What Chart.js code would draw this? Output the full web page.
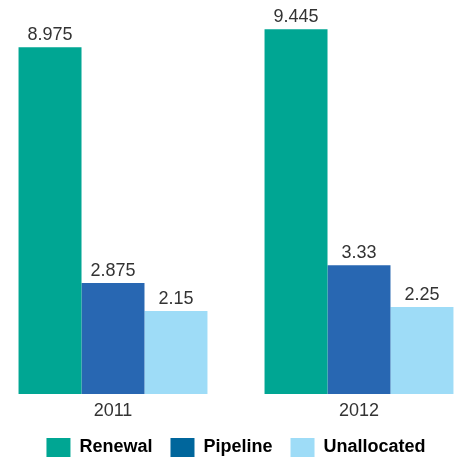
<!DOCTYPE html>
<html>
<head>
<meta charset="utf-8">
<script src="https://cdn.jsdelivr.net/npm/chart.js@4"></script>
<style>
  html, body { margin: 0; padding: 0; background: #fff; overflow: hidden; }
  #wrap { position: absolute; left: -10px; top: 0; width: 492px; height: 467px; }
</style>
</head>
<body>
<div id="wrap"><canvas id="chart"></canvas></div>
<script>
// Chart data
const years = ['2011', '2012'];
const renewal = [8.975, 9.445];
const pipeline = [2.875, 3.33];
const unallocated = [2.15, 2.25];

// Draws the value above each bar
const valueLabels = {
    id: 'valueLabels',
    afterDatasetsDraw(chart) {
        const ctx = chart.ctx;
        ctx.save();
        ctx.font = '18px "Liberation Sans", Arial, sans-serif';
        ctx.fillStyle = '#333333';
        ctx.textAlign = 'center';
        ctx.textBaseline = 'bottom';
        chart.data.datasets.forEach((ds, i) => {
            chart.getDatasetMeta(i).data.forEach((bar, j) => {
                ctx.fillText(String(ds.data[j]), bar.x, bar.y - 3);
            });
        });
        ctx.restore();
    }
};

new Chart(document.getElementById('chart').getContext('2d'), {
    type: 'bar',
    data: {
        labels: years,
        datasets: [
            { label: 'Renewal', data: renewal, backgroundColor: '#00a693' },
            { label: 'Pipeline', data: pipeline, backgroundColor: '#2867b2' },
            { label: 'Unallocated', data: unallocated, backgroundColor: '#9edcf7' }
        ]
    },
    options: {
        responsive: true,
        maintainAspectRatio: false,
        animation: false,
        categoryPercentage: 0.768,
        barPercentage: 1,
        layout: { padding: 0 },
        scales: {
            x: {
                grid: { display: false, drawTicks: false },
                border: { display: false },
                ticks: {
                    color: '#333333',
                    padding: 6,
                    font: { family: '"Liberation Sans", Arial, sans-serif', size: 18 }
                },
                afterFit(scale) { scale.height = 26; }
            },
            y: {
                display: false,
                min: 0,
                max: 10.2
            }
        },
        plugins: {
            tooltip: { enabled: false },
            legend: {
                position: 'bottom',
                labels: {
                    boxWidth: 24,
                    boxHeight: 19,
                    padding: 18,
                    color: '#222222',
                    font: { family: '"Liberation Sans", Arial, sans-serif', size: 18, weight: 'bold' },
                    generateLabels(chart) {
                        const legendColors = ['#00a693', '#00669c', '#9edcf7'];
                        return chart.data.datasets.map((ds, i) => ({
                            text: ds.label,
                            fillStyle: legendColors[i],
                            strokeStyle: legendColors[i],
                            lineWidth: 0,
                            datasetIndex: i
                        }));
                    }
                }
            }
        }
    },
    plugins: [valueLabels]
});
</script>
</body>
</html>
